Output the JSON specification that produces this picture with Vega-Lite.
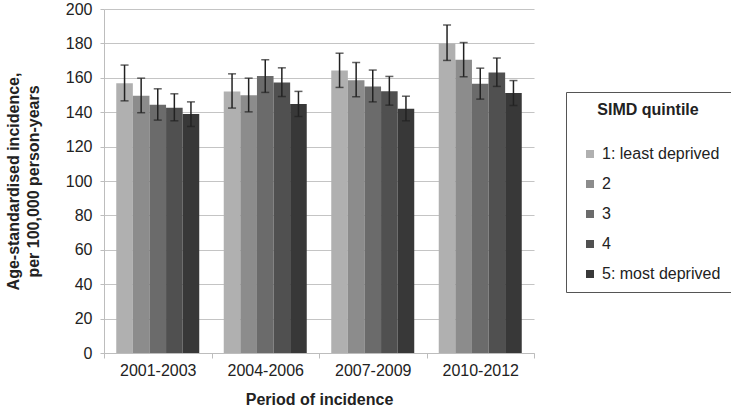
{
  "$schema": "https://vega.github.io/schema/vega-lite/v6.json",
  "width": 430,
  "height": 344,
  "autosize": {"type": "none"},
  "padding": {"left": 104, "top": 9, "right": 197, "bottom": 64},
  "background": "white",
  "config": {
    "font": "Liberation Sans",
    "view": {"stroke": null},
    "axis": {"labelFont": "Liberation Sans", "titleFont": "Liberation Sans", "labelColor": "#222", "titleColor": "#222"},
    "axisY": {
      "labelOverlap": false,
      "labelFontSize": 16, "labelPadding": 8, "tickSize": 4, "tickColor": "#bdbdbd",
      "domainColor": "#bdbdbd", "gridColor": "#c4c4c4", "gridWidth": 1.2,
      "titleFontSize": 16, "titleFontWeight": "bold", "titlePadding": 24, "titleLineHeight": 20
    }
  },
  "data": {
    "values": [
      {"period": "2001-2003", "q": "1: least deprived", "value": 156.9, "lo": 146.6, "hi": 167.4},
      {"period": "2001-2003", "q": "2", "value": 149.5, "lo": 139.7, "hi": 159.8},
      {"period": "2001-2003", "q": "3", "value": 144.3, "lo": 135.4, "hi": 153.6},
      {"period": "2001-2003", "q": "4", "value": 142.6, "lo": 135.0, "hi": 150.7},
      {"period": "2001-2003", "q": "5: most deprived", "value": 138.9, "lo": 131.7, "hi": 146.0},
      {"period": "2004-2006", "q": "1: least deprived", "value": 152.1, "lo": 142.4, "hi": 162.3},
      {"period": "2004-2006", "q": "2", "value": 149.9, "lo": 140.2, "hi": 159.8},
      {"period": "2004-2006", "q": "3", "value": 161.0, "lo": 151.5, "hi": 170.5},
      {"period": "2004-2006", "q": "4", "value": 157.3, "lo": 149.1, "hi": 165.8},
      {"period": "2004-2006", "q": "5: most deprived", "value": 144.7, "lo": 137.5, "hi": 152.1},
      {"period": "2007-2009", "q": "1: least deprived", "value": 164.3, "lo": 154.4, "hi": 174.3},
      {"period": "2007-2009", "q": "2", "value": 158.6, "lo": 149.0, "hi": 168.9},
      {"period": "2007-2009", "q": "3", "value": 155.0, "lo": 146.0, "hi": 164.5},
      {"period": "2007-2009", "q": "4", "value": 152.2, "lo": 144.1, "hi": 160.8},
      {"period": "2007-2009", "q": "5: most deprived", "value": 142.0, "lo": 135.0, "hi": 149.3},
      {"period": "2010-2012", "q": "1: least deprived", "value": 180.0, "lo": 170.1, "hi": 190.7},
      {"period": "2010-2012", "q": "2", "value": 170.5, "lo": 160.6, "hi": 180.5},
      {"period": "2010-2012", "q": "3", "value": 156.5, "lo": 147.6, "hi": 165.6},
      {"period": "2010-2012", "q": "4", "value": 163.1, "lo": 155.0, "hi": 171.5},
      {"period": "2010-2012", "q": "5: most deprived", "value": 151.1, "lo": 143.9, "hi": 158.4}
    ]
  },
  "encoding": {
    "x": {
      "field": "period", "type": "nominal",
      "scale": {"paddingInner": 0, "paddingOuter": 0},
      "axis": {
        "title": "Period of incidence", "labelAngle": 0, "tickBand": "extent",
        "labelFontSize": 16, "labelPadding": 4, "tickSize": 5, "tickColor": "#bdbdbd",
        "domainColor": "#bdbdbd", "titleFontSize": 16, "titleFontWeight": "bold", "titlePadding": 13
      }
    },
    "xOffset": {
      "field": "q", "type": "nominal",
      "scale": {"paddingInner": 0, "paddingOuter": 0.738}
    }
  },
  "layer": [
    {
      "mark": {"type": "bar"},
      "encoding": {
        "y": {
          "field": "value", "type": "quantitative",
          "scale": {"domain": [0, 200], "nice": false},
          "axis": {"title": ["Age-standardised incidence,", "per 100,000 person-years"], "values": [0, 20, 40, 60, 80, 100, 120, 140, 160, 180, 200]}
        },
        "color": {
          "field": "q", "type": "nominal",
          "scale": {"range": ["#b0b0b0", "#8c8c8c", "#6b6b6b", "#505050", "#383838"]},
          "legend": {
            "title": "SIMD quintile", "orient": "none", "legendX": 462, "legendY": 83,
            "strokeColor": "#555", "fillColor": "white", "padding": 10,
            "titleFontSize": 16, "titleFontWeight": "bold", "titleAnchor": "middle", "titlePadding": 28,
            "labelFontSize": 16, "labelColor": "#222", "titleColor": "#222", "labelOffset": 4,
            "symbolType": "square", "symbolSize": 64, "symbolStrokeWidth": 0, "symbolOffset": 6, "rowPadding": 14
          }
        }
      }
    },
    {
      "mark": {"type": "rule", "color": "#222", "strokeWidth": 1.5},
      "encoding": {
        "y": {"field": "lo", "type": "quantitative", "axis": {"title": ["Age-standardised incidence,", "per 100,000 person-years"], "values": [0, 20, 40, 60, 80, 100, 120, 140, 160, 180, 200]}},
        "y2": {"field": "hi"}
      }
    },
    {
      "mark": {"type": "tick", "color": "#222", "thickness": 1.5, "size": 8},
      "encoding": {"y": {"field": "lo", "type": "quantitative", "axis": {"title": ["Age-standardised incidence,", "per 100,000 person-years"], "values": [0, 20, 40, 60, 80, 100, 120, 140, 160, 180, 200]}}}
    },
    {
      "mark": {"type": "tick", "color": "#222", "thickness": 1.5, "size": 8},
      "encoding": {"y": {"field": "hi", "type": "quantitative", "axis": {"title": ["Age-standardised incidence,", "per 100,000 person-years"], "values": [0, 20, 40, 60, 80, 100, 120, 140, 160, 180, 200]}}}
    }
  ]
}
